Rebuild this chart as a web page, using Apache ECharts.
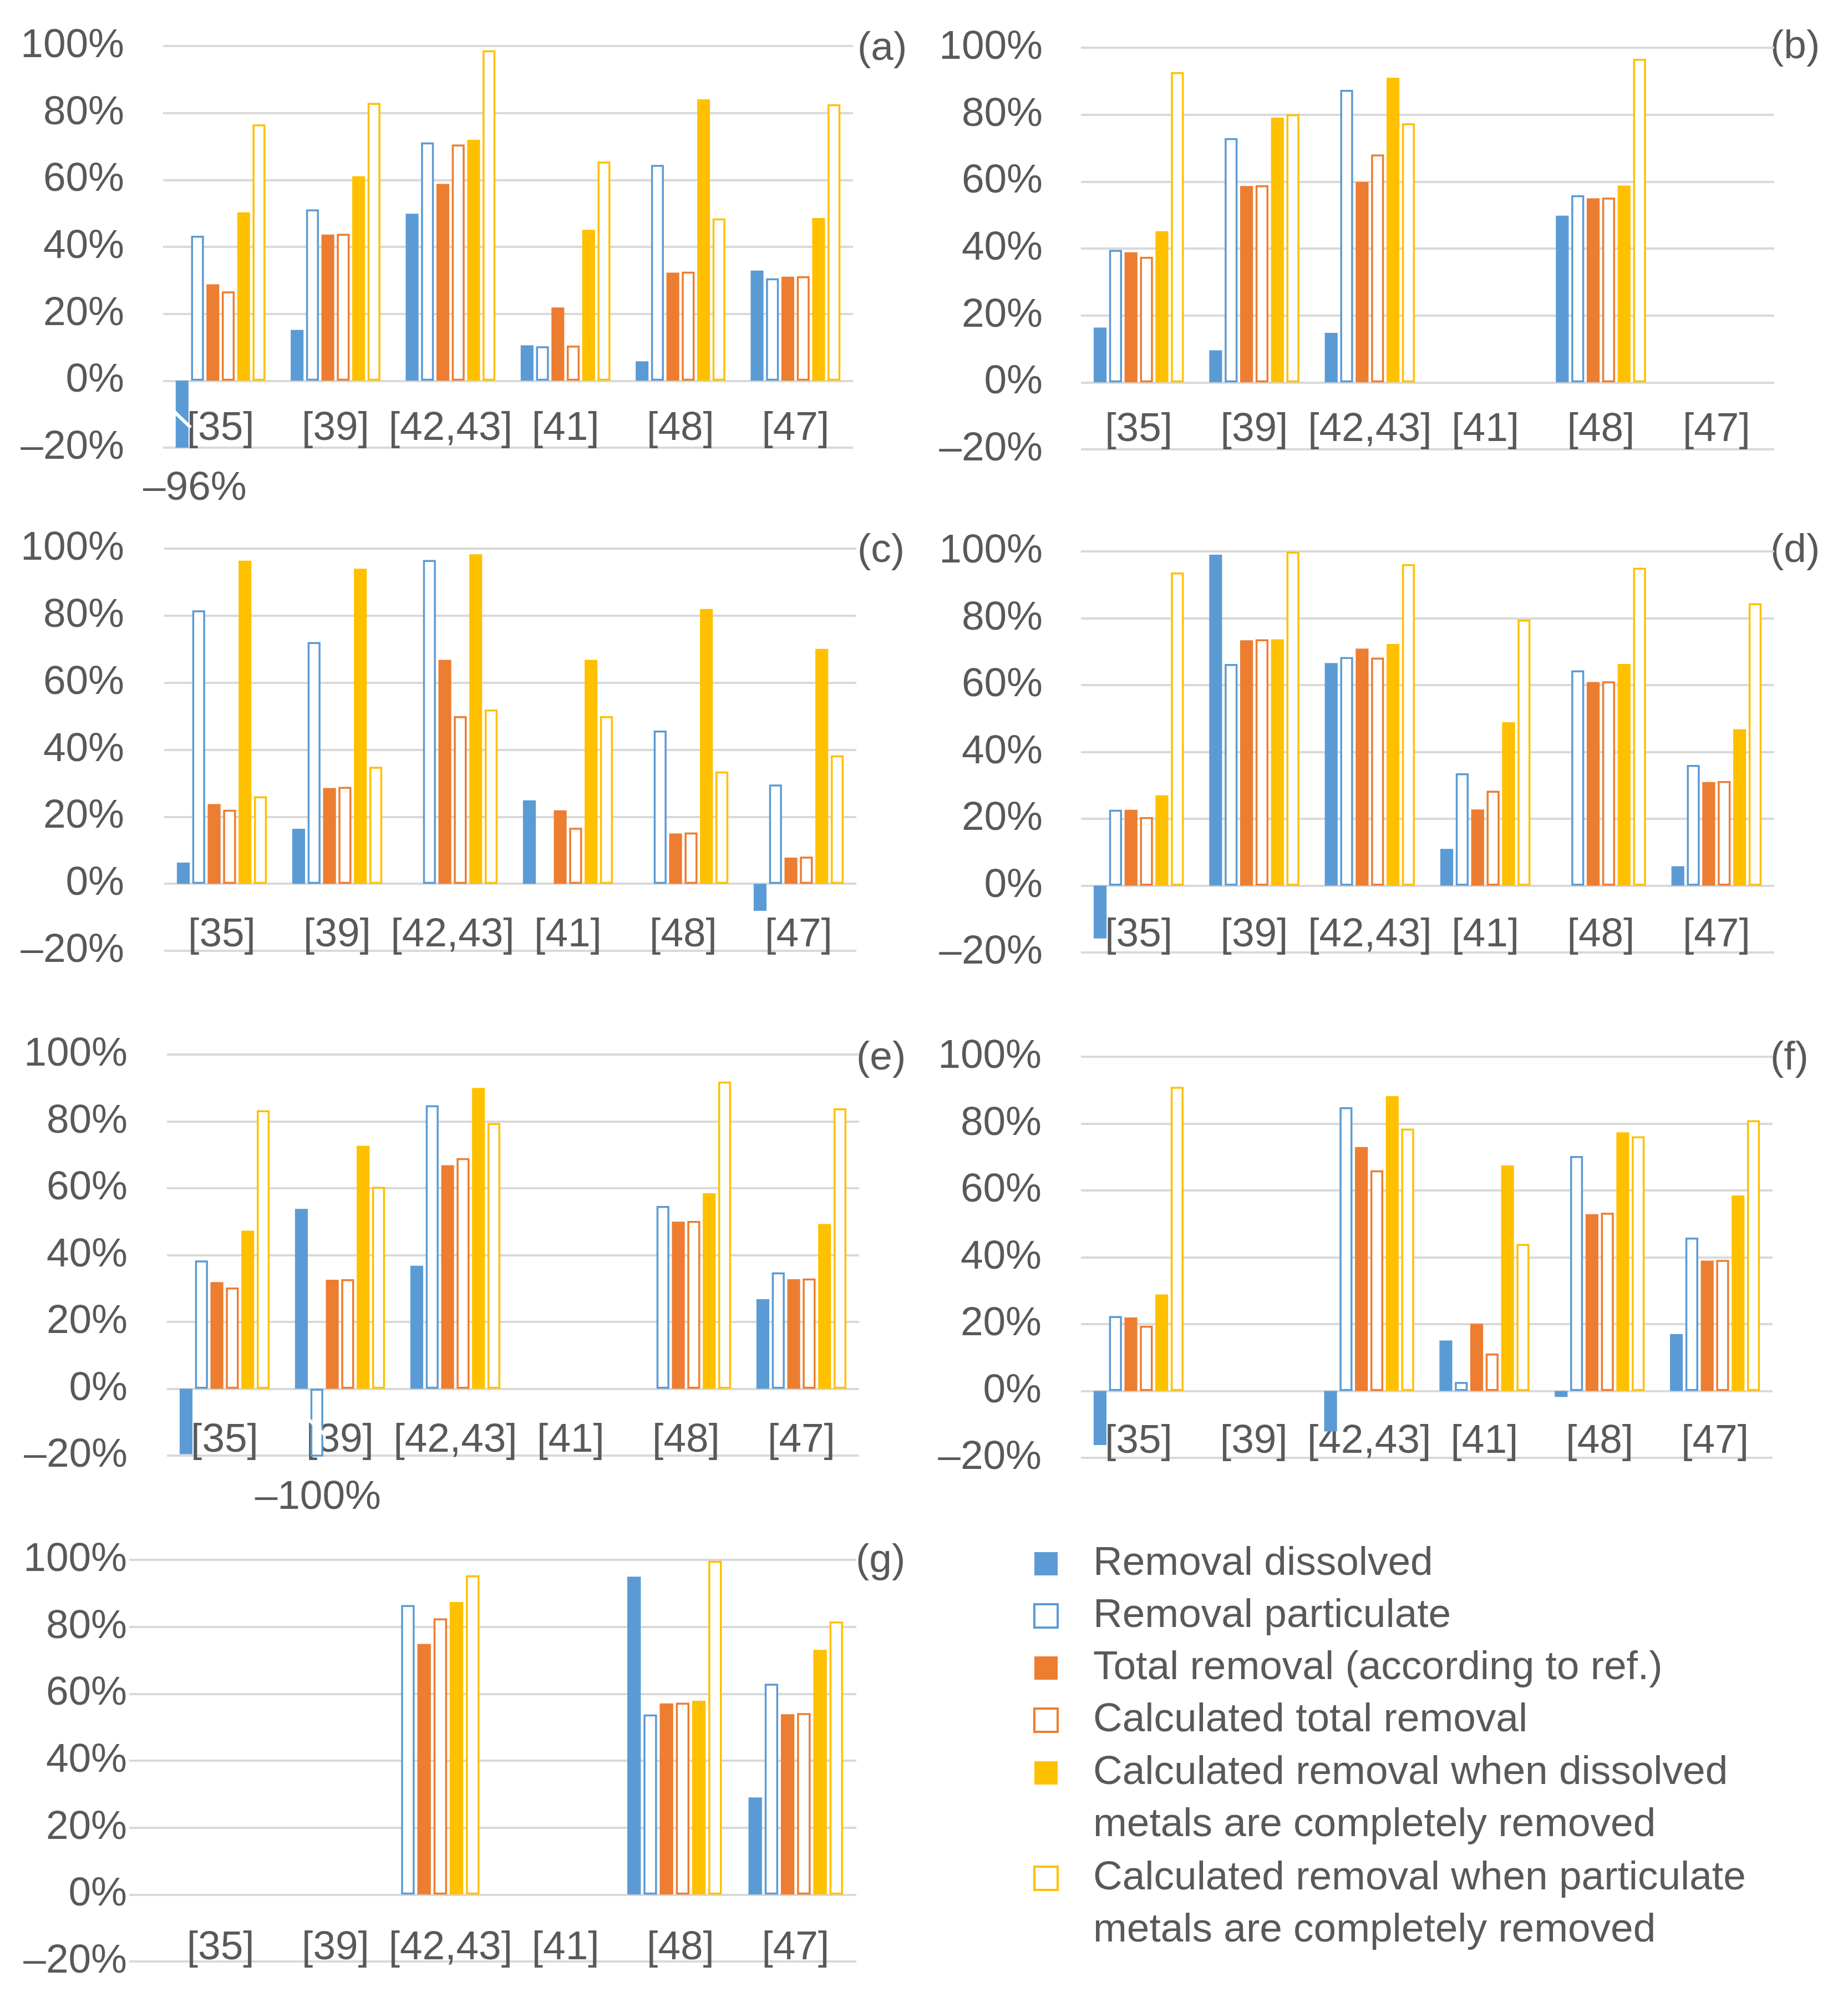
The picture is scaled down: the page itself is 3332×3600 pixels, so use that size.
<!DOCTYPE html>
<html>
<head>
<meta charset="utf-8">
<script src="https://cdn.jsdelivr.net/npm/echarts@6/dist/echarts.min.js"></script>
<style>
html,body{margin:0;padding:0;background:#ffffff;}
#chart{width:3332px;height:3600px;}
</style>
</head>
<body>
<div id="chart"></div>
<script>
// ---------------- DATA ----------------
const categories = ['[35]', '[39]', '[42,43]', '[41]', '[48]', '[47]'];
const panelLabels = ['(a)', '(b)', '(c)', '(d)', '(e)', '(f)', '(g)'];
const yMin = -0.2, yMax = 1.0, yStep = 0.2;

// one row per panel (a)..(g), one value per category
const removalDissolved = [
  [-0.96, 0.152, 0.499, 0.106, 0.058, 0.329],
  [0.164, 0.096, 0.148, null, 0.498, null],
  [0.063, 0.164, null, 0.249, null, -0.081],
  [-0.158, 0.990, 0.666, 0.110, null, 0.058],
  [-0.196, 0.538, 0.368, null, null, 0.268],
  [-0.162, null, -0.121, 0.151, -0.018, 0.170],
  [null, null, null, null, 0.950, 0.290]
];
const removalParticulate = [
  [0.433, 0.512, 0.712, 0.103, 0.645, 0.306],
  [0.396, 0.730, 0.874, null, 0.559, null],
  [0.816, 0.721, 0.966, null, 0.457, 0.296],
  [0.227, 0.663, 0.684, 0.336, 0.644, 0.361],
  [0.384, -1.00, 0.848, null, 0.547, 0.348],
  [0.224, null, 0.849, 0.027, 0.703, 0.459],
  [null, null, 0.865, null, 0.538, 0.630]
];
const totalRemovalRef = [
  [0.288, 0.437, 0.588, 0.219, 0.323, 0.311],
  [0.389, 0.587, 0.599, null, 0.550, null],
  [0.238, 0.286, 0.668, 0.219, 0.150, 0.078],
  [0.227, 0.734, 0.709, 0.228, 0.609, 0.310],
  [0.319, 0.326, 0.669, null, 0.500, 0.328],
  [0.220, null, 0.730, 0.201, 0.529, 0.390],
  [null, null, 0.749, null, 0.571, 0.539]
];
const calculatedTotal = [
  [0.267, 0.439, 0.706, 0.105, 0.326, 0.312],
  [0.375, 0.589, 0.681, null, 0.552, null],
  [0.221, 0.289, 0.500, 0.167, 0.153, 0.081],
  [0.205, 0.737, 0.682, 0.284, 0.611, 0.313],
  [0.303, 0.328, 0.690, null, 0.502, 0.330],
  [0.195, null, 0.660, 0.112, 0.533, 0.392],
  [null, null, 0.825, null, 0.573, 0.542]
];
const dissolvedComplete = [
  [0.503, 0.611, 0.720, 0.451, 0.841, 0.486],
  [0.452, 0.791, 0.910, null, 0.588, null],
  [0.964, 0.940, 0.983, 0.668, 0.820, 0.701],
  [0.270, 0.737, 0.723, 0.489, 0.663, 0.468],
  [0.473, 0.727, 0.900, null, 0.585, 0.493],
  [0.289, null, 0.882, 0.675, 0.774, 0.585],
  [null, null, 0.874, null, 0.579, 0.731]
];
const particulateComplete = [
  [0.766, 0.830, 0.987, 0.655, 0.485, 0.826],
  [0.927, 0.801, 0.774, null, 0.967, null],
  [0.261, 0.349, 0.520, 0.500, 0.335, 0.383],
  [0.937, 0.999, 0.962, 0.796, 0.951, 0.845],
  [0.833, 0.604, 0.795, null, 0.919, 0.839],
  [0.910, null, 0.785, 0.440, 0.762, 0.810],
  [null, null, 0.954, null, 0.997, 0.816]
];
// axis-break marks: [panel, category index, series index, value where the break is drawn]
const breakMarks = [
  [0, 0, 0, -0.115],
  [4, 1, 1, -0.115]
];

// ---------------- STYLE / LAYOUT ----------------
const FONT = '"Liberation Sans", Arial, Helvetica, sans-serif';
const TXT = '#595959';
const GRIDC = '#D9D9D9';
const FS = 73;
const CAT_GAP = 0.22, BAR_GAP = 0.20, NBARS = 6;

const seriesDefs = [
  { name: 'Removal dissolved', data: removalDissolved, color: '#5B9BD5', outline: false },
  { name: 'Removal particulate', data: removalParticulate, color: '#5B9BD5', outline: true },
  { name: 'Total removal (according to ref.)', data: totalRemovalRef, color: '#ED7D31', outline: false },
  { name: 'Calculated total removal', data: calculatedTotal, color: '#ED7D31', outline: true },
  { name: 'Calculated removal when dissolved\nmetals are completely removed', data: dissolvedComplete, color: '#FFC000', outline: false },
  { name: 'Calculated removal when particulate\nmetals are completely removed', data: particulateComplete, color: '#FFC000', outline: true }
];

const panelLayout = [
  { left: 294, top: 83, width: 1244, height: 724, yMargin: 70, xMargin: -76, tagX: 1546, tagY: 88, overflowDx: 23 },
  { left: 1949, top: 86, width: 1250, height: 724, yMargin: 69, xMargin: -77, tagX: 3192, tagY: 85, overflowDx: 0 },
  { left: 296, top: 989, width: 1248, height: 725, yMargin: 72, xMargin: -70, tagX: 1546, tagY: 993, overflowDx: 0 },
  { left: 1949, top: 994, width: 1250, height: 723, yMargin: 69, xMargin: -73, tagX: 3192, tagY: 993, overflowDx: 0 },
  { left: 301, top: 1901, width: 1248, height: 723, yMargin: 71, xMargin: -69, tagX: 1544, tagY: 1908, overflowDx: 2 },
  { left: 1949, top: 1905, width: 1247, height: 723, yMargin: 71, xMargin: -71, tagX: 3192, tagY: 1908, overflowDx: 0 },
  { left: 233, top: 2812, width: 1311, height: 724, yMargin: 4, xMargin: -66, tagX: 1543, tagY: 2814, overflowDx: 0 }
];
// the category labels of panel (g) sit where the other left panels have them
const gLabelGrid = { left: 294, top: 2812, width: 1244, height: 724, xMargin: -66 };

function pct(v) {
  const r = Math.round(Math.abs(v) * 100);
  return (v < 0 && r !== 0 ? '\u2013' : '') + r + '%';
}

const grids = [], xAxes = [], yAxes = [], series = [];

function catAxis(gridIndex, showLabel, margin) {
  return {
    type: 'category', gridIndex: gridIndex, data: categories,
    axisLine: { show: false, onZero: false },
    axisTick: { show: false },
    splitLine: { show: false },
    axisLabel: { show: showLabel, interval: 0, hideOverlap: false, margin: margin,
                 fontSize: FS, lineHeight: 84, color: TXT, fontFamily: FONT }
  };
}

panelLayout.forEach((L, p) => {
  grids.push({ left: L.left, top: L.top, width: L.width, height: L.height, containLabel: false, outerBoundsMode: 'none' });
  xAxes.push(catAxis(p, p !== 6, L.xMargin));
  yAxes.push({
    type: 'value', gridIndex: p, min: yMin, max: yMax, interval: yStep,
    axisLine: { show: false }, axisTick: { show: false },
    splitLine: { show: true, lineStyle: { color: GRIDC, width: 4 } },
    axisLabel: { margin: L.yMargin, fontSize: FS, color: TXT, fontFamily: FONT, formatter: pct }
  });
  seriesDefs.forEach((d) => {
    series.push({
      type: 'bar', name: d.name, xAxisIndex: p, yAxisIndex: p,
      barCategoryGap: (CAT_GAP * 100) + '%', barGap: (BAR_GAP * 100) + '%',
      itemStyle: d.outline ? { color: '#FFFFFF', borderColor: d.color, borderWidth: 3.5 } : { color: d.color },
      emphasis: { disabled: true },
      data: d.data[p].map(v => (v !== null && v < yMin) ? {
        value: v,
        label: { show: true, position: 'bottom', distance: 32, offset: [L.overflowDx, 0], formatter: pct(v),
                 fontSize: FS, lineHeight: 84, color: TXT, fontFamily: FONT }
      } : v)
    });
  });
  const marks = breakMarks.filter(b => b[0] === p).map(b => [b[1], b[2], b[3]]);
  if (marks.length) {
    series.push({
      type: 'custom', xAxisIndex: p, yAxisIndex: p, z: 10, silent: true,
      encode: { x: 0, y: 2 },
      data: marks,
      renderItem: function (params, api) {
        const cat = api.value(0), si = api.value(1), v = api.value(2);
        const c = api.coord([cat, v]);
        const band = api.size([1, 0])[0];
        const w = band * (1 - CAT_GAP) / (NBARS + (NBARS - 1) * BAR_GAP);
        const total = NBARS * w + (NBARS - 1) * BAR_GAP * w;
        const cx = c[0] - total / 2 + si * w * (1 + BAR_GAP) + w / 2;
        return {
          type: 'line',
          shape: { x1: cx - w / 2 - 4, y1: c[1] - 15, x2: cx + w / 2 + 4, y2: c[1] + 15 },
          style: { stroke: '#FFFFFF', lineWidth: 6 }
        };
      }
    });
  }
});

// label-only grid for panel (g)
grids.push({ left: gLabelGrid.left, top: gLabelGrid.top, width: gLabelGrid.width, height: gLabelGrid.height, containLabel: false, outerBoundsMode: 'none' });
xAxes.push(catAxis(7, true, gLabelGrid.xMargin));
yAxes.push({ type: 'value', gridIndex: 7, min: yMin, max: yMax, interval: yStep, show: false });

const legendText = { fontSize: FS, lineHeight: 94, color: TXT, fontFamily: FONT, padding: [0, 0, 0, 59] };
const legendItem = (d) => d.outline
  ? { name: d.name, itemStyle: { color: '#FFFFFF', borderColor: d.color, borderWidth: 4 } }
  : { name: d.name, itemStyle: { color: d.color, borderWidth: 0 } };

const option = {
  animation: false,
  backgroundColor: '#FFFFFF',
  textStyle: { fontFamily: FONT },
  grid: grids,
  xAxis: xAxes,
  yAxis: yAxes,
  series: series,
  legend: [
    {
      orient: 'vertical', left: 1863, top: 2772, padding: 0,
      itemWidth: 42, itemHeight: 42, itemGap: 0, icon: 'rect',
      selectedMode: false, textStyle: legendText,
      data: seriesDefs.slice(0, 4).map(legendItem)
    },
    {
      orient: 'vertical', left: 1863, top: 3149, padding: 0,
      itemWidth: 42, itemHeight: 136, itemGap: 2,
      icon: 'path://M0,0L10,0L10,10L0,10Z M0,32.38L0.001,32.38',
      selectedMode: false, textStyle: legendText,
      data: seriesDefs.slice(4).map(legendItem)
    }
  ],
  graphic: panelLayout.map((L, i) => ({
    type: 'text', x: L.tagX, y: L.tagY, silent: true,
    style: { text: panelLabels[i], fontSize: FS, fontFamily: FONT, fill: TXT, verticalAlign: 'middle', align: 'left' }
  }))
};

const chart = echarts.init(document.getElementById('chart'), null, { renderer: 'canvas', width: 3332, height: 3600 });
chart.setOption(option);
</script>
</body>
</html>
